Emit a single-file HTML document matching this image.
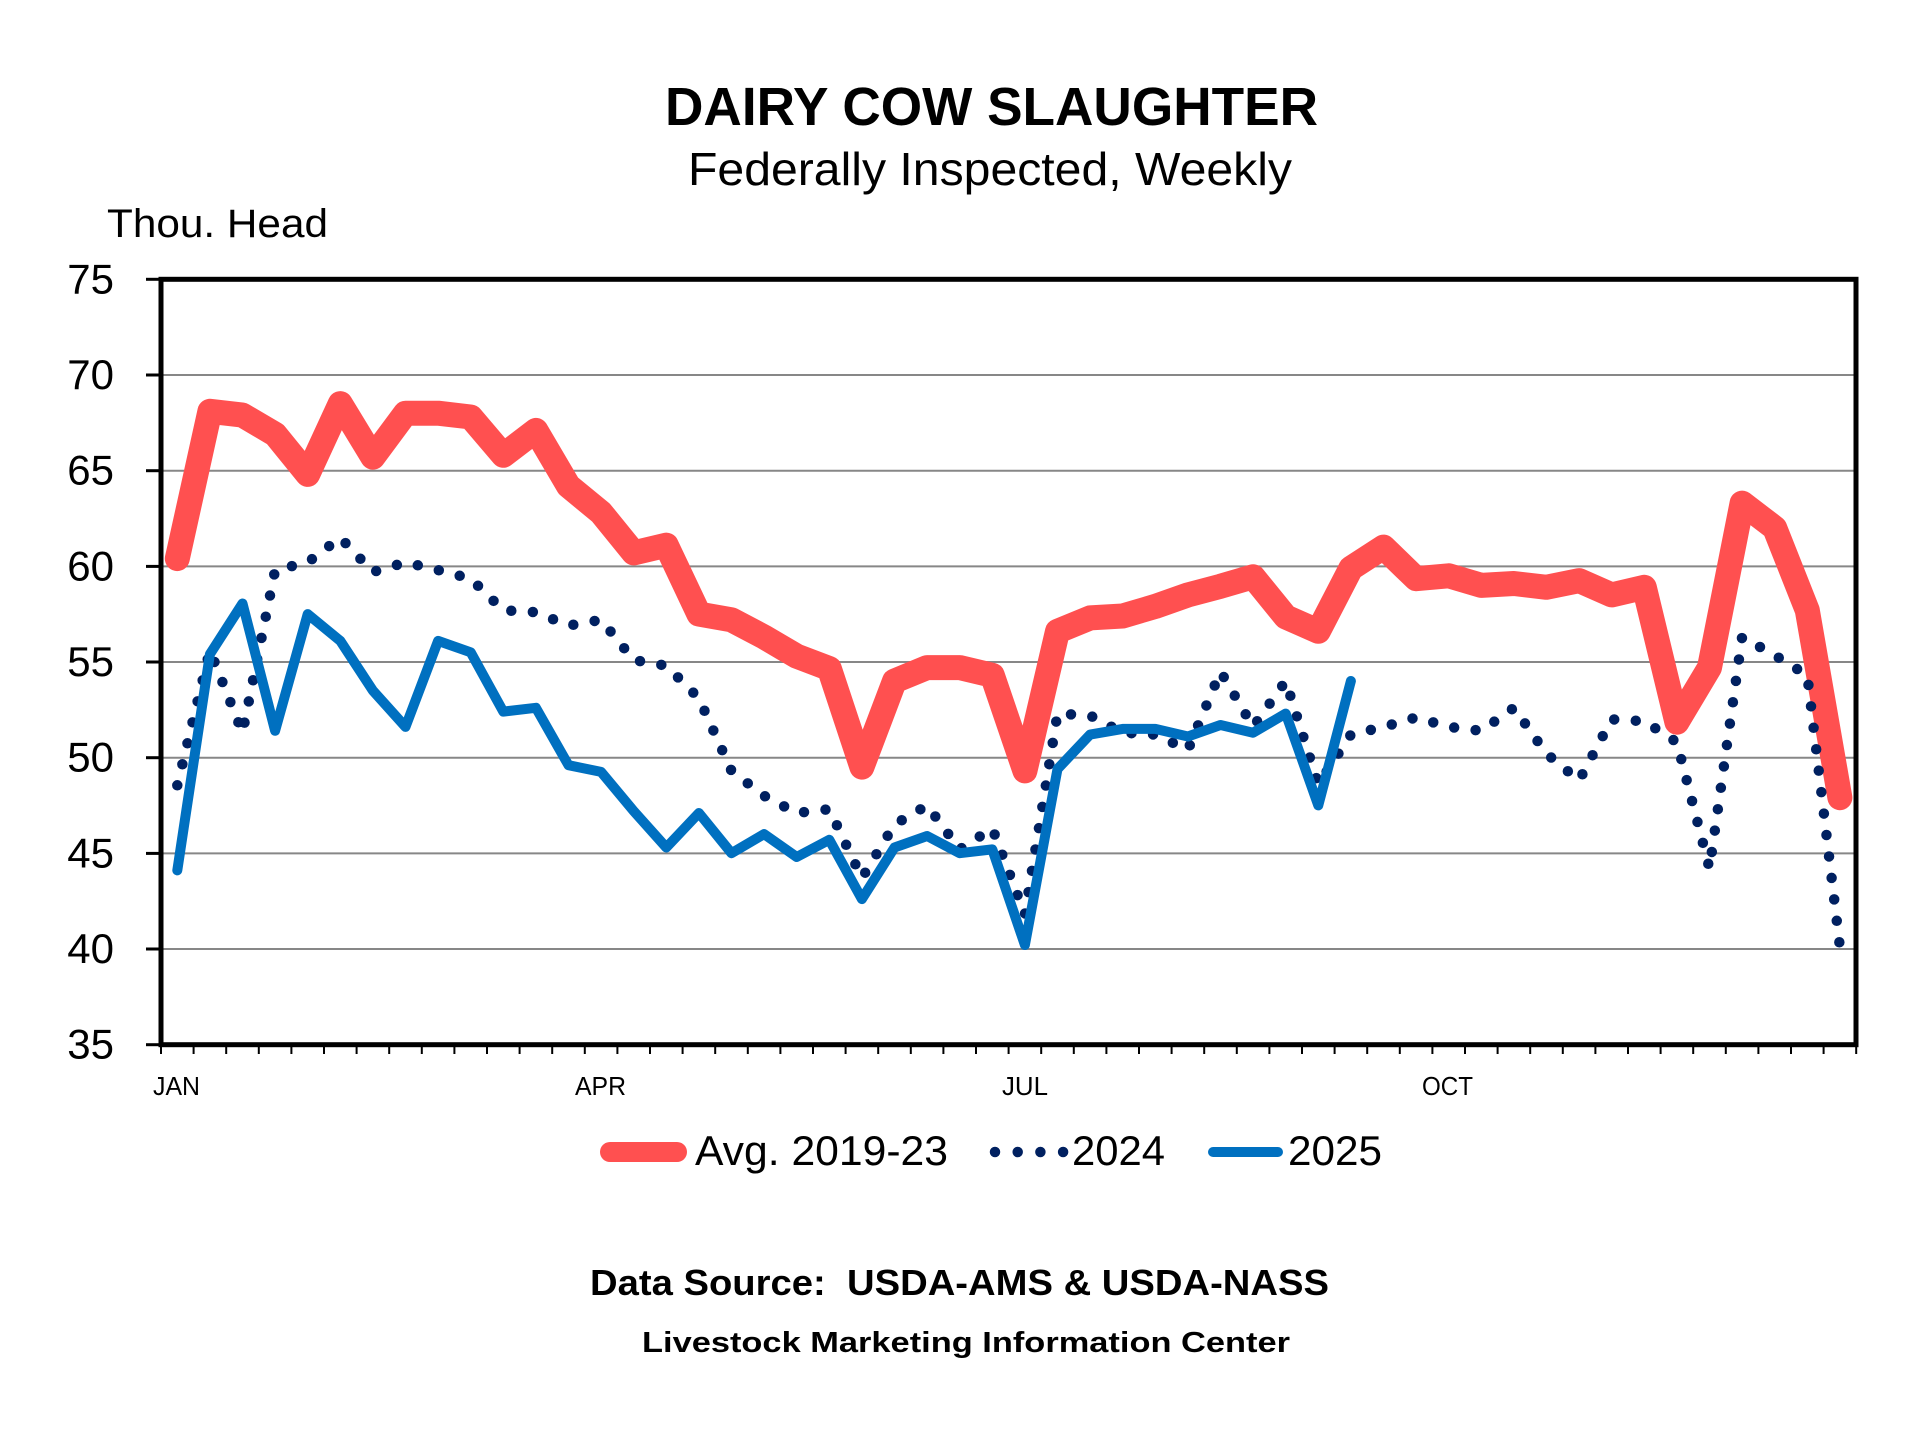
<!DOCTYPE html>
<html>
<head>
<meta charset="utf-8">
<style>
  html,body{margin:0;padding:0;background:#fff;}
  svg{display:block;}
  text{font-family:"Liberation Sans",Arial,sans-serif;fill:#000;white-space:pre;}
</style>
</head>
<body>
<svg width="1920" height="1440" viewBox="0 0 1920 1440" xmlns="http://www.w3.org/2000/svg">
  <rect x="0" y="0" width="1920" height="1440" fill="#fff"/>

  <!-- Titles -->
  <text x="665" y="125" font-size="54" font-weight="bold" textLength="653" lengthAdjust="spacingAndGlyphs">DAIRY COW SLAUGHTER</text>
  <text x="688" y="185" font-size="46" textLength="604" lengthAdjust="spacingAndGlyphs">Federally Inspected, Weekly</text>
  <text x="107" y="237" font-size="40" textLength="221" lengthAdjust="spacingAndGlyphs">Thou. Head</text>

  <!-- Gridlines -->
  <g stroke="#878787" stroke-width="2">
    <line x1="161" y1="375.0" x2="1856" y2="375.0"/>
    <line x1="161" y1="470.7" x2="1856" y2="470.7"/>
    <line x1="161" y1="566.4" x2="1856" y2="566.4"/>
    <line x1="161" y1="662.0" x2="1856" y2="662.0"/>
    <line x1="161" y1="757.7" x2="1856" y2="757.7"/>
    <line x1="161" y1="853.4" x2="1856" y2="853.4"/>
    <line x1="161" y1="949.0" x2="1856" y2="949.0"/>
  </g>

  <!-- Y ticks -->
  <g stroke="#000" stroke-width="3">
    <line x1="146" y1="279.3" x2="161" y2="279.3"/>
    <line x1="146" y1="375.0" x2="161" y2="375.0"/>
    <line x1="146" y1="470.7" x2="161" y2="470.7"/>
    <line x1="146" y1="566.4" x2="161" y2="566.4"/>
    <line x1="146" y1="662.0" x2="161" y2="662.0"/>
    <line x1="146" y1="757.7" x2="161" y2="757.7"/>
    <line x1="146" y1="853.4" x2="161" y2="853.4"/>
    <line x1="146" y1="949.0" x2="161" y2="949.0"/>
    <line x1="146" y1="1044.7" x2="161" y2="1044.7"/>
  </g>

  <!-- X ticks -->
  <line x1="160" y1="1049" x2="1858" y2="1049" stroke="#000" stroke-width="10" stroke-dasharray="2 30.6"/>

  <!-- Y labels -->
  <g font-size="42" text-anchor="end">
    <text x="114" y="293.3">75</text>
    <text x="114" y="389.0">70</text>
    <text x="114" y="484.7">65</text>
    <text x="114" y="580.4">60</text>
    <text x="114" y="676.0">55</text>
    <text x="114" y="771.7">50</text>
    <text x="114" y="867.4">45</text>
    <text x="114" y="963.0">40</text>
    <text x="114" y="1058.7">35</text>
  </g>

  <!-- X labels -->
  <g font-size="26">
    <text x="153" y="1095" textLength="47" lengthAdjust="spacingAndGlyphs">JAN</text>
    <text x="575" y="1095" textLength="51" lengthAdjust="spacingAndGlyphs">APR</text>
    <text x="1002" y="1095" textLength="46" lengthAdjust="spacingAndGlyphs">JUL</text>
    <text x="1422" y="1095" textLength="51" lengthAdjust="spacingAndGlyphs">OCT</text>
  </g>

  <!-- Series: Avg 2019-23 -->
  <polyline fill="none" stroke="#FF5050" stroke-width="25" stroke-linejoin="round" stroke-linecap="round"
    points="177.3,558.6 209.9,411.3 242.5,415.1 275.1,434.3 307.7,474.4 340.3,403.6 372.9,457.2 405.5,413.2 438.1,413.2 470.7,417.0 503.3,455.3 535.9,430.4 568.5,485.9 601.1,512.7 633.7,552.9 666.3,545.2 698.9,614.1 731.5,619.8 764.1,637.0 796.7,656.2 829.3,668.6 861.9,767.1 894.5,681.0 927.1,667.6 959.7,667.6 992.3,675.3 1024.9,770.9 1057.5,631.3 1090.1,617.9 1122.7,616.0 1155.3,606.4 1187.9,594.9 1220.5,586.3 1253.1,576.8 1285.7,616.9 1318.3,631.3 1350.9,568.2 1383.5,547.1 1416.1,578.7 1448.7,575.8 1481.3,585.4 1513.9,583.5 1546.5,587.3 1579.1,580.6 1611.7,594.9 1644.3,587.3 1676.9,722.2 1709.5,667.6 1742.1,503.1 1774.7,528.0 1807.3,610.3 1839.9,797.7"/>

  <!-- Series: 2024 dotted -->
  <polyline fill="none" stroke="#002060" stroke-width="10.5" stroke-linejoin="round" stroke-linecap="round" stroke-dasharray="0 21.6"
    points="177.3,785.3 209.9,650.4 242.5,732.7 275.1,570.1 307.7,562.4 340.3,537.6 372.9,572.0 405.5,562.4 438.1,570.1 470.7,578.7 503.3,610.3 535.9,612.2 568.5,625.6 601.1,619.8 633.7,660.0 666.3,665.7 698.9,698.3 731.5,770.9 764.1,795.8 796.7,813.0 829.3,809.2 861.9,878.1 894.5,824.5 927.1,805.4 959.7,849.4 992.3,828.3 1024.9,914.4 1057.5,713.6 1090.1,715.5 1122.7,732.7 1155.3,734.6 1187.9,749.9 1220.5,671.5 1253.1,726.9 1285.7,681.0 1318.3,784.3 1350.9,734.6 1383.5,726.9 1416.1,717.4 1448.7,726.9 1481.3,730.8 1513.9,707.8 1546.5,753.7 1579.1,780.5 1611.7,719.3 1644.3,721.2 1676.9,742.3 1709.5,868.5 1742.1,637.0 1774.7,655.2 1807.3,675.3 1839.9,946.9"/>

  <!-- Series: 2025 -->
  <polyline fill="none" stroke="#0070C0" stroke-width="10" stroke-linejoin="round" stroke-linecap="round"
    points="177.3,870.4 209.9,654.2 242.5,603.5 275.1,730.8 307.7,614.1 340.3,640.9 372.9,690.6 405.5,726.9 438.1,640.9 470.7,652.3 503.3,711.6 535.9,707.8 568.5,765.2 601.1,771.9 633.7,811.1 666.3,847.5 698.9,813.0 731.5,853.2 764.1,834.1 796.7,857.0 829.3,839.8 861.9,899.1 894.5,847.5 927.1,836.0 959.7,853.2 992.3,849.4 1024.9,945.0 1057.5,769.0 1090.1,734.6 1122.7,728.9 1155.3,728.9 1187.9,736.5 1220.5,725.0 1253.1,732.7 1285.7,713.6 1318.3,805.4 1350.9,681.0"/>

  <!-- Plot frame -->
  <rect x="161" y="279.3" width="1695" height="765.4" fill="none" stroke="#000" stroke-width="5"/>

  <!-- Legend -->
  <line x1="610" y1="1152" x2="677" y2="1152" stroke="#FF5050" stroke-width="20" stroke-linecap="round"/>
  <text x="695" y="1165" font-size="42" textLength="253" lengthAdjust="spacingAndGlyphs">Avg. 2019-23</text>
  <line x1="995" y1="1152" x2="1064" y2="1152" stroke="#002060" stroke-width="10.5" stroke-linecap="round" stroke-dasharray="0 22.7"/>
  <text x="1072" y="1165" font-size="42" textLength="93" lengthAdjust="spacingAndGlyphs">2024</text>
  <line x1="1213" y1="1152" x2="1278" y2="1152" stroke="#0070C0" stroke-width="10" stroke-linecap="round"/>
  <text x="1288" y="1165" font-size="42" textLength="94" lengthAdjust="spacingAndGlyphs">2025</text>

  <!-- Footer -->
  <text x="590" y="1295" font-size="36" font-weight="bold" textLength="739" lengthAdjust="spacingAndGlyphs">Data Source:  USDA-AMS &amp; USDA-NASS</text>
  <text x="642" y="1352" font-size="29" font-weight="bold" textLength="648" lengthAdjust="spacingAndGlyphs">Livestock Marketing Information Center</text>
</svg>
</body>
</html>
